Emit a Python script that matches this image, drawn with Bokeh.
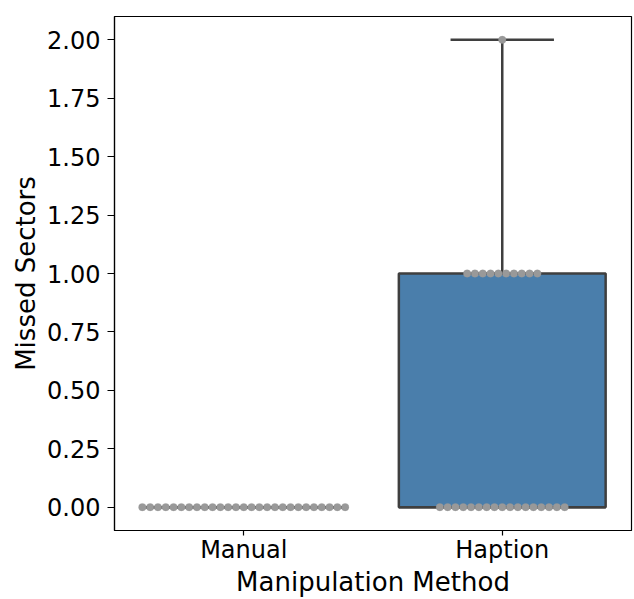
import numpy as np
from bokeh.plotting import figure
from bokeh.models import Range1d, FixedTicker, NumeralTickFormatter
from bokeh.embed import file_html
from bokeh.resources import INLINE

# ---- data ----
categories = ["Manual", "Haption"]
manual_values = [0] * 27
haption_values = [0] * 17 + [1] * 10 + [2]
y_ticks = [0.0, 0.25, 0.5, 0.75, 1.0, 1.25, 1.5, 1.75, 2.0]

series = [manual_values, haption_values]

FONT = "DejaVu Sans"
BOX_FILL = "#4a7eab"
EDGE = "#3f3f3f"
DOT = "#999999"

p = figure(width=634, height=599, output_backend="svg", toolbar_location=None,
           x_range=Range1d(-0.5, 1.5), y_range=Range1d(-0.1, 2.1),
           min_border_left=114, min_border_right=3, min_border_top=16, min_border_bottom=0)
p.xgrid.visible = False
p.ygrid.visible = False
p.outline_line_color = "black"
p.outline_line_width = 1.2
p.background_fill_color = "white"
p.border_fill_color = "white"

box_width = 0.8
cap_width = 0.4
for i, vals in enumerate(series):
    v = np.array(vals, dtype=float)
    q1, med, q3 = np.percentile(v, [25, 50, 75])
    iqr = q3 - q1
    lo = v[v >= q1 - 1.5 * iqr].min()
    hi = v[v <= q3 + 1.5 * iqr].max()
    if hi > q3:
        p.segment(x0=[i], y0=[q3], x1=[i], y1=[hi], line_color=EDGE, line_width=2.5)
        p.segment(x0=[i - cap_width / 2], y0=[hi], x1=[i + cap_width / 2], y1=[hi], line_color=EDGE, line_width=2.5)
    if lo < q1:
        p.segment(x0=[i], y0=[lo], x1=[i], y1=[q1], line_color=EDGE, line_width=2.5)
        p.segment(x0=[i - cap_width / 2], y0=[lo], x1=[i + cap_width / 2], y1=[lo], line_color=EDGE, line_width=2.5)
    p.quad(left=[i - box_width / 2], right=[i + box_width / 2], bottom=[q1], top=[q3],
           fill_color=BOX_FILL, line_color=EDGE, line_width=2.5)
    p.segment(x0=[i - box_width / 2], y0=[med], x1=[i + box_width / 2], y1=[med], line_color=EDGE, line_width=2.5)

# swarm points
dot_px = 7.8
units_per_px = 2.0 / 517.0
d = dot_px * units_per_px
xs, ys = [], []
for i, vals in enumerate(series):
    for u in sorted(set(vals)):
        n = vals.count(u)
        for k in range(n):
            xs.append(i + (k - (n - 1) / 2) * d)
            ys.append(u)
p.scatter(x=xs, y=ys, size=7.5, fill_color=DOT, line_color=DOT, line_width=0.3)

# axes
p.xaxis.ticker = FixedTicker(ticks=[0, 1])
p.xaxis.major_label_overrides = {0: categories[0], 1: categories[1]}
p.yaxis.ticker = FixedTicker(ticks=y_ticks)
p.yaxis.formatter = NumeralTickFormatter(format="0.00")
for ax in (p.xaxis[0], p.yaxis[0]):
    ax.axis_line_color = "black"
    ax.axis_line_width = 1.2
    ax.major_tick_in = 0
    ax.major_tick_out = 7
    ax.major_tick_line_color = "black"
    ax.major_tick_line_width = 1.2
    ax.minor_tick_line_color = None
    ax.major_label_text_font = FONT
    ax.major_label_text_font_size = "24px"
    ax.major_label_text_color = "black"
    ax.axis_label_text_font = FONT
    ax.axis_label_text_font_size = "26px"
    ax.axis_label_text_font_style = "normal"
    ax.axis_label_text_color = "black"
p.xaxis.major_tick_out = 5
p.xaxis.axis_label = "Manipulation Method"
p.yaxis.axis_label = "Missed Sectors"
p.xaxis.major_label_standoff = 0
p.yaxis.major_label_standoff = 7
p.xaxis.axis_label_standoff = 0
p.yaxis.axis_label_standoff = 3

open("out.html", "w").write(file_html(p, INLINE))
